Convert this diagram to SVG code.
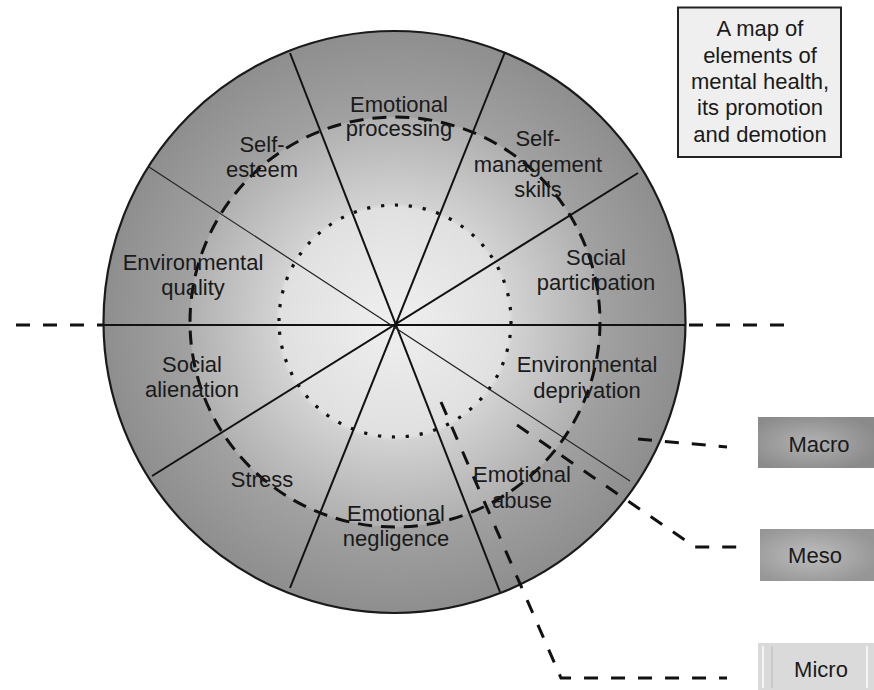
<svg xmlns="http://www.w3.org/2000/svg" width="874" height="690" viewBox="0 0 874 690">
  <style>
    .lbl { font-family: "Liberation Sans", Arial, sans-serif; font-size: 22px; fill: #1a1a1a; text-anchor: middle; }
    .spoke { stroke: #111; stroke-width: 2; fill: none; }
    .spoke-thin { stroke: #222; stroke-width: 1.2; fill: none; }
    .dash { stroke: #111; stroke-width: 3; fill: none; stroke-dasharray: 14 13; }
  </style>
  <defs>
    <radialGradient id="outerFill" cx="394.5" cy="322" r="291" gradientUnits="userSpaceOnUse">
      <stop offset="0.70" stop-color="#a2a2a2"/>
      <stop offset="1" stop-color="#8e8e8e"/>
    </radialGradient>
    <radialGradient id="midFill" cx="394.5" cy="322" r="205" gradientUnits="userSpaceOnUse">
      <stop offset="0" stop-color="#efefef"/>
      <stop offset="0.56" stop-color="#e0e0e0"/>
      <stop offset="0.58" stop-color="#d2d2d2"/>
      <stop offset="1" stop-color="#b0b0b0"/>
    </radialGradient>
    <radialGradient id="macroFill" cx="0.45" cy="0.5" r="0.6">
      <stop offset="0" stop-color="#b2b2b2"/>
      <stop offset="1" stop-color="#8a8a8a"/>
    </radialGradient>
    <radialGradient id="mesoFill" cx="0.45" cy="0.5" r="0.6">
      <stop offset="0" stop-color="#bdbdbd"/>
      <stop offset="1" stop-color="#969696"/>
    </radialGradient>
  </defs>

  <!-- wheel body -->
  <g id="wheel">
    <circle cx="394.5" cy="322" r="291" fill="url(#outerFill)" stroke="#1a1a1a" stroke-width="2.2"/>
    <circle cx="395" cy="322" r="205" fill="url(#midFill)"/>
    <circle cx="395" cy="321" r="116" fill="none" stroke="#111" stroke-width="3.2" stroke-dasharray="3.2 10.8"/>
    <line class="spoke" x1="103" y1="325" x2="685" y2="325" stroke-width="2.5"/>
    <line class="spoke" x1="290" y1="53" x2="500" y2="592"/>
    <line class="spoke" x1="505" y1="52" x2="290" y2="588"/>
    <line class="spoke" x1="638" y1="173" x2="152" y2="476"/>
    <line class="spoke-thin" x1="149" y1="167" x2="630" y2="481"/>
    <circle cx="395" cy="322" r="205" fill="none" stroke="#111" stroke-width="3" stroke-dasharray="14 9"/>
  </g>

  <!-- level connectors -->
  <g id="connectors">
    <line class="dash" x1="16" y1="325" x2="103" y2="325" stroke-dasharray="15 13"/>
    <line class="dash" x1="689" y1="325" x2="784" y2="325" stroke-dasharray="15 13"/>
    <polyline class="dash" points="638,439 727,447"/>
    <polyline class="dash" points="517,425 695,547 739,547"/>
    <polyline class="dash" points="441,402 561,678 727,678" stroke-dasharray="15 13"/>
  </g>

  <!-- sector labels -->
  <g id="emotional-processing"><text class="lbl" x="399" y="112">Emotional</text><text class="lbl" x="399" y="136">processing</text></g>
  <g id="self-esteem"><text class="lbl" x="262" y="152">Self-</text><text class="lbl" x="262" y="177">esteem</text></g>
  <g id="self-management"><text class="lbl" x="538" y="146">Self-</text><text class="lbl" x="538" y="172">management</text><text class="lbl" x="538" y="197">skills</text></g>
  <g id="social-participation"><text class="lbl" x="596" y="265">Social</text><text class="lbl" x="596" y="290">participation</text></g>
  <g id="environmental-quality"><text class="lbl" x="193" y="270">Environmental</text><text class="lbl" x="193" y="295">quality</text></g>
  <g id="social-alienation"><text class="lbl" x="192" y="372">Social</text><text class="lbl" x="192" y="397">alienation</text></g>
  <g id="stress"><text class="lbl" x="262" y="487">Stress</text></g>
  <g id="emotional-negligence"><text class="lbl" x="396" y="521">Emotional</text><text class="lbl" x="396" y="546">negligence</text></g>
  <g id="environmental-deprivation"><text class="lbl" x="587" y="372">Environmental</text><text class="lbl" x="587" y="398">deprivation</text></g>
  <g id="emotional-abuse"><text class="lbl" x="522" y="482">Emotional</text><text class="lbl" x="522" y="508">abuse</text></g>

  <!-- title box -->
  <g id="title">
    <rect x="678" y="7.5" width="163" height="149.5" fill="#efefef" stroke="#222" stroke-width="2"/>
    <text class="lbl" x="760" y="36">A map of</text>
    <text class="lbl" x="760" y="63">elements of</text>
    <text class="lbl" x="760" y="89">mental health,</text>
    <text class="lbl" x="760" y="115">its promotion</text>
    <text class="lbl" x="760" y="142">and demotion</text>
  </g>

  <!-- level boxes -->
  <g id="macro">
    <rect x="758" y="417" width="116" height="51" fill="url(#macroFill)"/>
    <text class="lbl" x="819" y="452">Macro</text>
  </g>
  <g id="meso">
    <rect x="760" y="529" width="114" height="52" fill="url(#mesoFill)"/>
    <text class="lbl" x="815" y="563">Meso</text>
  </g>
  <g id="micro">
    <rect x="758" y="643" width="116" height="47" fill="#dadada"/>
    <line x1="763" y1="646" x2="763" y2="688" stroke="#f4f4f4" stroke-width="2"/>
    <line x1="772" y1="646" x2="772" y2="688" stroke="#b8b8b8" stroke-width="1"/>
    <line x1="867" y1="646" x2="867" y2="688" stroke="#f4f4f4" stroke-width="2"/>
    <text class="lbl" x="821" y="677">Micro</text>
  </g>
</svg>
